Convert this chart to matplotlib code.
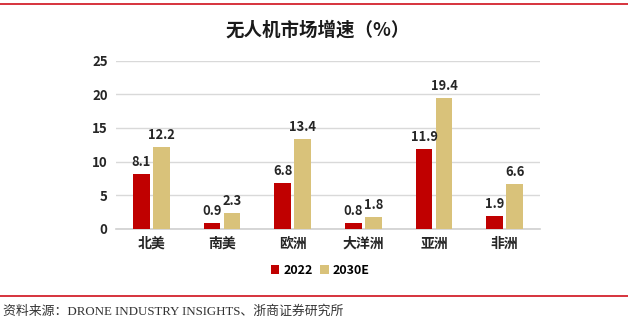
import numpy as np
import matplotlib
matplotlib.use('Agg')
import matplotlib.pyplot as plt
from matplotlib.lines import Line2D

plt.rcParams['font.family'] = ['Noto Sans CJK SC', 'DejaVu Sans']

regions = ['北美', '南美', '欧洲', '大洋洲', '亚洲', '非洲']
v2022 = [8.1, 0.9, 6.8, 0.8, 11.9, 1.9]
v2030 = [12.2, 2.3, 13.4, 1.8, 19.4, 6.6]
series_names = ['2022', '2030E']
yticks = [0, 5, 10, 15, 20, 25]

red = '#C00000'
gold = '#D9C27A'

fig = plt.figure(figsize=(6.28, 3.24), dpi=100)
ax = fig.add_axes([116/628, 1 - 228.7/324, 424/628, 168/324])

x = np.arange(len(regions))
w = 0.236
off = 0.141
b1 = ax.bar(x - off, v2022, w, color=red, label=series_names[0], zorder=3)
b2 = ax.bar(x + off, v2030, w, color=gold, label=series_names[1], zorder=3)

for bars, vals in ((b1, v2022), (b2, v2030)):
    for rect, v in zip(bars, vals):
        ax.annotate(f'{v:.1f}', (rect.get_x() + rect.get_width() / 2, v),
                    xytext=(0, 3.5), textcoords='offset points',
                    ha='center', va='bottom', fontsize=9.3, fontweight='bold',
                    color='#262626')

ax.set_xlim(-0.5, 5.5)
ax.set_ylim(0, 25)
ax.set_yticks(yticks)
ax.set_xticks(x)
ax.set_xticklabels(regions)
ax.yaxis.grid(True, color='#d9d9d9', lw=1, zorder=0)
ax.set_axisbelow(True)
for s in ['top', 'right', 'left']:
    ax.spines[s].set_visible(False)
ax.spines['bottom'].set_color('#d0d0d0')
ax.spines['bottom'].set_linewidth(1.2)
ax.tick_params(axis='both', length=0, labelcolor='#262626')
ax.tick_params(axis='x', pad=6, labelsize=10)
ax.tick_params(axis='y', pad=6, labelsize=9.5)
for lab in ax.get_xticklabels() + ax.get_yticklabels():
    lab.set_fontweight('bold')

fig.legend(loc='center', bbox_to_anchor=(320/628, 1 - 270/324), ncol=2,
           frameon=False, handlelength=0.7, handleheight=0.7,
           handletextpad=0.3, columnspacing=0.6,
           prop={'weight': 'bold', 'size': 9})

fig.text(0.505, 1 - 30/324, '无人机市场增速（%）', ha='center', va='center',
         fontsize=13.3, fontweight='bold', color='#1a1a1a')

fig.add_artist(Line2D([0, 1], [1 - 4/324, 1 - 4/324], transform=fig.transFigure,
                      color='#D0101B', lw=1.2))
fig.add_artist(Line2D([0, 1], [1 - 296/324, 1 - 296/324], transform=fig.transFigure,
                      color='#D0101B', lw=1.2))

fig.text(3/628, 1 - 312/324, '资料来源：DRONE INDUSTRY INSIGHTS、浙商证券研究所',
         ha='left', va='center', fontsize=9.3, color='#333333',
         family=['Liberation Serif', 'Noto Sans CJK SC'])

fig.savefig('out.png', dpi=100)
